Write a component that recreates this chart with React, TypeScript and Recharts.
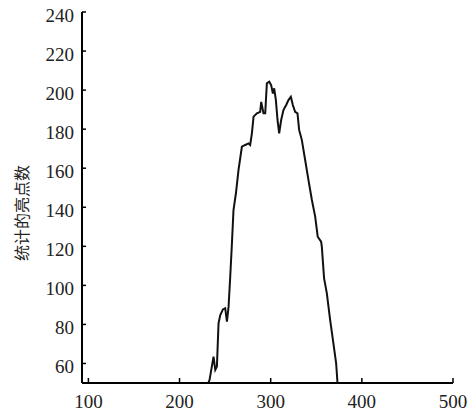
import React from "react";
import { LineChart, Line, XAxis, YAxis } from "recharts";

if (typeof document !== "undefined") {
  document.body.style.margin = "0";
}

const xValues = [
  231.5, 232.9, 237.3, 239.2, 241.0, 242.8, 244.7, 247.6, 250.1, 252.0,
  253.8, 255.6, 257.5, 259.2, 261.9, 264.7, 268.4, 272.1, 275.7, 277.5,
  279.4, 281.2, 284.9, 288.5, 289.6, 292.1, 294.0, 295.8, 298.4, 300.5,
  302.4, 303.8, 305.7, 307.5, 309.3, 311.5, 314.0, 317.0, 319.5, 322.1,
  324.3, 326.8, 329.4, 331.2, 334.2, 337.8, 341.4, 345.2, 348.8, 351.6,
  355.3, 356.1, 357.9, 358.6, 361.6, 365.2, 368.8, 371.8, 373.2, 373.4,
];
const yValues = [
  50, 51.5, 63.5, 56.7, 58.4, 80.7, 84.8, 87.7, 88.3, 81.4,
  89.1, 104.4, 121.7, 138.6, 147.3, 159.1, 171, 171.9, 172.7, 171.9,
  178, 186.4, 188.1, 188.9, 194, 188.1, 188.1, 203.5, 204.3, 202.6,
  198.3, 200.9, 194.9, 184.7, 177.9, 184.7, 189.8, 192.4, 194.9, 196.6,
  192.4, 188.9, 188.1, 179.6, 174.4, 164.2, 154, 143.7, 135.2, 124.9,
  122.4, 119.8, 107.9, 103.6, 95.9, 82.3, 70.3, 60.1, 50.7, 50,
];
const xTicks = [100, 200, 300, 400, 500];
const yTicks = [60, 80, 100, 120, 140, 160, 180, 200, 220, 240];
const yLabel = "统计的亮点数";

const data = xValues.map((x, i) => ({ x, y: yValues[i] }));

const SERIF = "'Liberation Serif', 'DejaVu Serif', serif";

const XTick = (props: any) => {
  const { x, y, payload } = props;
  return (
    <g>
      <line x1={x} y1={y} x2={x} y2={y - 5} stroke="#000" strokeWidth={1.5} />
      <text x={x} y={y + 25} textAnchor="middle" fontFamily={SERIF} fontSize={19} fill="#222">
        {payload.value}
      </text>
    </g>
  );
};

const YTick = (props: any) => {
  const { x, y, payload } = props;
  return (
    <g>
      <line x1={x} y1={y} x2={x + 4} y2={y} stroke="#000" strokeWidth={1.5} />
      <text x={x - 8} y={y + 9.5} textAnchor="end" fontFamily={SERIF} fontSize={19} fill="#222">
        {payload.value}
      </text>
    </g>
  );
};

const YLabel = () => (
  <text
    transform="translate(28,213) rotate(-90)"
    textAnchor="middle"
    fontFamily="'Noto Sans CJK SC', sans-serif"
    fontSize={16}
    fill="#222"
  >
    {yLabel}
  </text>
);

export default function App() {
  return (
    <LineChart
      width={476}
      height={415}
      data={data}
      margin={{ top: 12, right: 23, bottom: 0, left: 0 }}
    >
      <XAxis
        dataKey="x"
        type="number"
        domain={[93, 500]}
        ticks={xTicks}
        allowDataOverflow
        height={32}
        tickSize={0}
        tickMargin={0}
        tickLine={false}
        axisLine={{ stroke: "#000", strokeWidth: 2 }}
        tick={<XTick />}
        interval={0}
      />
      <YAxis
        type="number"
        domain={[50, 240]}
        ticks={yTicks}
        allowDataOverflow
        width={82}
        tickSize={0}
        tickMargin={0}
        tickLine={false}
        axisLine={{ stroke: "#000", strokeWidth: 2 }}
        tick={<YTick />}
        interval={0}
        label={<YLabel />}
      />
      <Line
        dataKey="y"
        type="linear"
        stroke="#111"
        strokeWidth={2}
        dot={false}
        isAnimationActive={false}
      />
    </LineChart>
  );
}
